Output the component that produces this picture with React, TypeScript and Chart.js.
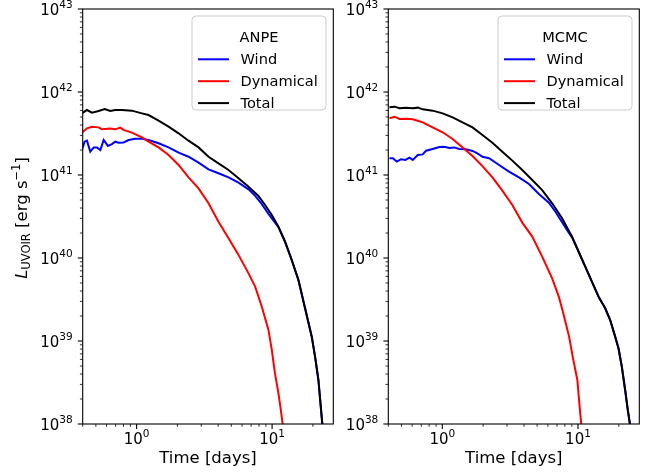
import React, { useEffect, useRef } from "react";
import { Chart, registerables } from "chart.js";
Chart.register(...registerables);

// ---------------- data ----------------
// ANPE panel
const anpeWindT = [0.395, 0.413, 0.430, 0.455, 0.482, 0.510, 0.540, 0.571, 0.614, 0.657, 0.696, 0.736, 0.801, 0.873, 0.977, 1.094, 1.225, 1.452, 1.721, 2.04, 2.417, 2.864, 3.395, 4.02, 4.77, 5.65, 6.70, 7.50, 8.40, 9.40, 11.14, 12.48, 13.97, 15.65, 17.52, 19.63, 20.77, 21.98, 22.99, 23.53];
const anpeWindL = [2.00e41, 2.52e41, 2.59e41, 1.91e41, 2.15e41, 2.15e41, 2.00e41, 2.64e41, 2.24e41, 2.36e41, 2.52e41, 2.45e41, 2.47e41, 2.64e41, 2.74e41, 2.74e41, 2.64e41, 2.41e41, 2.15e41, 1.86e41, 1.66e41, 1.41e41, 1.17e41, 1.05e41, 9.37e40, 8.09e40, 6.72e40, 5.60e40, 4.45e40, 3.40e40, 2.35e40, 1.55e40, 9.4e39, 5.4e39, 2.46e39, 1.12e39, 6.4e38, 3.36e38, 1.46e38, 9.6e37];

const anpeDynT = [0.395, 0.430, 0.468, 0.524, 0.555, 0.639, 0.696, 0.757, 0.801, 0.923, 1.094, 1.225, 1.452, 1.721, 2.04, 2.417, 2.864, 3.395, 4.02, 4.77, 5.65, 6.70, 7.50, 8.40, 9.40, 9.95, 10.5, 11.14, 11.6, 12.0];
const anpeDynL = [3.24e41, 3.65e41, 3.82e41, 3.75e41, 3.55e41, 3.62e41, 3.55e41, 3.72e41, 3.50e41, 3.24e41, 2.84e41, 2.52e41, 2.15e41, 1.74e41, 1.32e41, 9.37e40, 6.90e40, 4.56e40, 2.74e40, 1.73e40, 1.09e40, 6.53e39, 4.52e39, 2.59e39, 1.36e39, 7.8e38, 4.07e38, 2.34e38, 1.48e38, 9.7e37];

const anpeTotalT = [0.395, 0.430, 0.468, 0.524, 0.581, 0.639, 0.696, 0.779, 0.923, 1.094, 1.225, 1.452, 1.721, 2.04, 2.417, 2.864, 3.395, 4.02, 4.77, 5.65, 6.70, 7.93, 8.88, 9.95, 11.14, 12.48, 13.97, 15.65, 17.52, 19.63, 20.77, 21.98, 22.99, 23.53];
const anpeTotalL = [5.53e41, 6.07e41, 5.64e41, 5.90e41, 6.24e41, 5.90e41, 6.07e41, 6.07e41, 5.96e41, 5.53e41, 5.28e41, 4.51e41, 3.82e41, 3.18e41, 2.59e41, 2.15e41, 1.66e41, 1.38e41, 1.15e41, 9.12e40, 7.23e40, 5.58e40, 4.35e40, 3.30e40, 2.39e40, 1.57e40, 9.47e39, 5.43e39, 2.48e39, 1.13e39, 6.47e38, 3.39e38, 1.48e38, 9.7e37];

// MCMC panel
const mcmcWindT = [0.408, 0.432, 0.462, 0.497, 0.535, 0.573, 0.606, 0.659, 0.717, 0.759, 0.849, 0.951, 1.034, 1.126, 1.225, 1.333, 1.492, 1.669, 1.816, 1.977, 2.212, 2.619, 3.10, 3.67, 4.35, 5.15, 6.10, 6.82, 7.636, 8.55, 9.04, 10.12, 11.32, 12.67, 14.19, 15.88, 17.28, 18.80, 19.89, 21.04, 22.26, 23.28, 24.22];
const mcmcWindL = [1.59e41, 1.59e41, 1.45e41, 1.55e41, 1.52e41, 1.62e41, 1.52e41, 1.74e41, 1.77e41, 1.96e41, 2.06e41, 2.17e41, 2.19e41, 2.12e41, 2.15e41, 2.06e41, 2.04e41, 1.95e41, 1.82e41, 1.66e41, 1.59e41, 1.32e41, 1.10e41, 9.37e40, 7.79e40, 5.90e40, 4.64e40, 3.61e40, 2.69e40, 2.02e40, 1.77e40, 1.18e40, 7.8e39, 5.15e39, 3.4e39, 2.46e39, 1.78e39, 1.12e39, 8.1e38, 4.88e38, 2.55e38, 1.47e38, 9.6e37];

const mcmcDynT = [0.408, 0.445, 0.484, 0.541, 0.606, 0.659, 0.717, 0.849, 1.006, 1.191, 1.410, 1.669, 1.977, 2.340, 2.771, 3.281, 3.885, 4.599, 5.446, 6.449, 7.22, 7.68, 8.60, 9.14, 9.89, 10.23, 10.58];
const mcmcDynL = [4.82e41, 5.04e41, 4.73e41, 4.77e41, 4.69e41, 4.51e41, 4.31e41, 3.75e41, 3.27e41, 2.72e41, 2.15e41, 1.69e41, 1.28e41, 9.37e40, 6.47e40, 4.35e40, 2.67e40, 1.81e40, 1.04e40, 5.69e39, 3.42e39, 2.36e39, 1.13e39, 6.47e38, 3.39e38, 1.77e38, 9.7e37];

const mcmcTotalT = [0.408, 0.445, 0.484, 0.541, 0.606, 0.659, 0.717, 0.849, 1.006, 1.191, 1.410, 1.669, 1.977, 2.340, 2.771, 3.281, 3.885, 4.599, 5.446, 6.449, 7.636, 9.04, 10.12, 11.32, 12.67, 14.19, 15.88, 17.28, 18.80, 19.89, 21.04, 22.26, 23.28, 24.22];
const mcmcTotalL = [6.54e41, 6.66e41, 6.36e41, 6.48e41, 6.36e41, 6.48e41, 6.18e41, 5.96e41, 5.53e41, 4.95e41, 4.31e41, 3.75e41, 3.03e41, 2.45e41, 1.91e41, 1.49e41, 1.15e41, 8.71e40, 6.59e40, 4.56e40, 3.01e40, 1.81e40, 1.19e40, 7.87e39, 5.19e39, 3.42e39, 2.48e39, 1.79e39, 1.13e39, 8.16e38, 4.91e38, 2.57e38, 1.48e38, 9.7e37];

const seriesLabels = ["Wind", "Dynamical", "Total"];
const seriesColors = ["#0000ff", "#ff0000", "#000000"];
const panelTitles = ["ANPE", "MCMC"];

// axis limits and tick labels
const X_MIN = 0.4;
const X_MAX = 28.3;
const Y_MIN = 1e38;
const Y_MAX = 1e43;
const xTickValues = [1, 10];
const xTickExps = ["0", "1"];
const yTickValues = [1e38, 1e39, 1e40, 1e41, 1e42, 1e43];
const yTickExps = ["38", "39", "40", "41", "42", "43"];
const xAxisLabel = "Time [days]";

// ---------------- layout ----------------
const W = 655;
const H = 472;
const PLOT_TOP = 9;
const PLOT_BOTTOM = 424;
const FONT = '"DejaVu Sans", sans-serif';

type Seg = { t: string; s: number; it?: boolean; dy?: number };
const segFont = (g: Seg) => `${g.it ? "italic " : ""}${g.s}px ${FONT}`;

function drawRich(ctx: CanvasRenderingContext2D, segs: Seg[], x: number, y: number, align: "left" | "center" | "right") {
  let w = 0;
  for (const g of segs) {
    ctx.font = segFont(g);
    w += ctx.measureText(g.t).width;
  }
  let cx = align === "left" ? x : align === "center" ? x - w / 2 : x - w;
  ctx.textAlign = "left";
  ctx.textBaseline = "alphabetic";
  for (const g of segs) {
    ctx.font = segFont(g);
    ctx.fillText(g.t, cx, y + (g.dy || 0));
    cx += ctx.measureText(g.t).width;
  }
}

const mplPlugin = {
  id: "mpl",
  afterDraw(chart: any, _args: any, opts: any) {
    const ctx: CanvasRenderingContext2D = chart.ctx;
    const a = chart.chartArea;
    const xs = chart.scales.x;
    const ys = chart.scales.y;
    ctx.save();
    ctx.strokeStyle = "#000";
    ctx.fillStyle = "#000";
    // minor + major ticks
    for (let e = -1; e <= 2; e++) {
      for (let m = 1; m <= 9; m++) {
        const v = m * Math.pow(10, e);
        if (v < X_MIN * 0.999 || v > X_MAX * 1.001) continue;
        const px = xs.getPixelForValue(v);
        const major = m === 1;
        ctx.lineWidth = major ? 1.1 : 0.8;
        ctx.beginPath();
        ctx.moveTo(px, a.bottom);
        ctx.lineTo(px, a.bottom + (major ? 4.9 : 2.8));
        ctx.stroke();
      }
    }
    for (let e = 38; e <= 43; e++) {
      for (let m = 1; m <= 9; m++) {
        const v = m * Math.pow(10, e);
        if (v < Y_MIN * 0.999 || v > Y_MAX * 1.001) continue;
        const py = ys.getPixelForValue(v);
        const major = m === 1;
        ctx.lineWidth = major ? 1.1 : 0.8;
        ctx.beginPath();
        ctx.moveTo(a.left, py);
        ctx.lineTo(a.left - (major ? 4.9 : 2.8), py);
        ctx.stroke();
      }
    }
    // spines
    ctx.lineWidth = 1.1;
    ctx.strokeRect(a.left, a.top, a.right - a.left, a.bottom - a.top);
    // tick labels
    xTickValues.forEach((v, i) => {
      drawRich(ctx, [{ t: "10", s: 15 }, { t: xTickExps[i], s: 10.5, dy: -6.5 }], xs.getPixelForValue(v), 443.5, "center");
    });
    yTickValues.forEach((v, i) => {
      const py = ys.getPixelForValue(v);
      drawRich(ctx, [{ t: "10", s: 15 }, { t: yTickExps[i], s: 10.5, dy: -6.5 }], a.left - 10, py + 5.5, "right");
    });
    // x label
    drawRich(ctx, [{ t: xAxisLabel, s: 16.5 }], (a.left + a.right) / 2, 463, "center");
    // y label
    if (opts.yLabel) {
      ctx.save();
      ctx.translate(26.5, (a.top + a.bottom) / 2 + 1.5);
      ctx.rotate(-Math.PI / 2);
      drawRich(
        ctx,
        [
          { t: "L", s: 16.5, it: true },
          { t: "UVOIR", s: 11.5, dy: 3 },
          { t: " [erg s", s: 16.5 },
          { t: "\u22121", s: 11.5, dy: -7 },
          { t: "]", s: 16.5 },
        ],
        0,
        0,
        "center"
      );
      ctx.restore();
    }
    // legend
    const bw = 134;
    const bh = 94;
    const bx = a.right - 7.3 - bw;
    const by = a.top + 7;
    ctx.beginPath();
    const r = 4;
    ctx.moveTo(bx + r, by);
    ctx.arcTo(bx + bw, by, bx + bw, by + bh, r);
    ctx.arcTo(bx + bw, by + bh, bx, by + bh, r);
    ctx.arcTo(bx, by + bh, bx, by, r);
    ctx.arcTo(bx, by, bx + bw, by, r);
    ctx.closePath();
    ctx.fillStyle = "rgba(255,255,255,0.8)";
    ctx.fill();
    ctx.strokeStyle = "#cccccc";
    ctx.lineWidth = 1;
    ctx.stroke();
    ctx.fillStyle = "#000";
    drawRich(ctx, [{ t: opts.title, s: 14.6 }], bx + bw / 2, by + 26, "center");
    const dsets = chart.data.datasets;
    dsets.forEach((d: any, i: number) => {
      const base = by + 48.3 + i * 21.9;
      ctx.strokeStyle = d.borderColor;
      ctx.lineWidth = 2;
      ctx.beginPath();
      ctx.moveTo(bx + 6, base - 5);
      ctx.lineTo(bx + 37, base - 5);
      ctx.stroke();
      ctx.fillStyle = "#000";
      drawRich(ctx, [{ t: d.label, s: 14.6 }], bx + 48.5, base, "left");
    });
    ctx.restore();
  },
};

type PanelProps = {
  left: number;
  width: number;
  plotLeft: number;
  plotRight: number;
  title: string;
  ts: number[][];
  ls: number[][];
  yLabel: boolean;
};

function Panel({ left, width, plotLeft, plotRight, title, ts, ls, yLabel }: PanelProps) {
  const ref = useRef<HTMLCanvasElement>(null);
  useEffect(() => {
    const canvas = ref.current!;
    const chart = new Chart(canvas, {
      type: "line",
      data: {
        datasets: ts.map((t, i) => ({
          label: seriesLabels[i],
          data: t.map((x, j) => ({ x, y: ls[i][j] })),
          borderColor: seriesColors[i],
          backgroundColor: seriesColors[i],
          borderWidth: 2,
          pointRadius: 0,
          fill: false,
          tension: 0,
          order: ts.length - i,
        })),
      },
      options: {
        responsive: false,
        animation: false,
        devicePixelRatio: 1,
        layout: { padding: { left: 0, right: width - plotRight, top: PLOT_TOP, bottom: 0 } },
        scales: {
          x: {
            type: "logarithmic",
            min: X_MIN,
            max: X_MAX,
            ticks: { display: false },
            grid: { display: false },
            border: { display: false },
            afterFit: (s: any) => {
              s.height = H - PLOT_BOTTOM;
            },
          },
          y: {
            type: "logarithmic",
            min: Y_MIN,
            max: Y_MAX,
            ticks: { display: false },
            grid: { display: false },
            border: { display: false },
            afterFit: (s: any) => {
              s.width = plotLeft;
            },
          },
        },
        plugins: {
          legend: { display: false },
          tooltip: { enabled: false },
          mpl: { yLabel, title },
        } as any,
      },
      plugins: [mplPlugin as any],
    } as any);
    return () => chart.destroy();
  }, []);
  return (
    <canvas
      ref={ref}
      width={width}
      height={H}
      style={{ position: "absolute", left, top: 0, width, height: H }}
    />
  );
}

export default function App() {
  return (
    <div style={{ position: "fixed", left: 0, top: 0, width: W, height: H, background: "#fff" }}>
      <Panel
        left={0}
        width={340}
        plotLeft={82.7}
        plotRight={333.3}
        title={panelTitles[0]}
        ts={[anpeWindT, anpeDynT, anpeTotalT]}
        ls={[anpeWindL, anpeDynL, anpeTotalL]}
        yLabel={true}
      />
      <Panel
        left={340}
        width={315}
        plotLeft={48.3}
        plotRight={299.3}
        title={panelTitles[1]}
        ts={[mcmcWindT, mcmcDynT, mcmcTotalT]}
        ls={[mcmcWindL, mcmcDynL, mcmcTotalL]}
        yLabel={false}
      />
    </div>
  );
}
